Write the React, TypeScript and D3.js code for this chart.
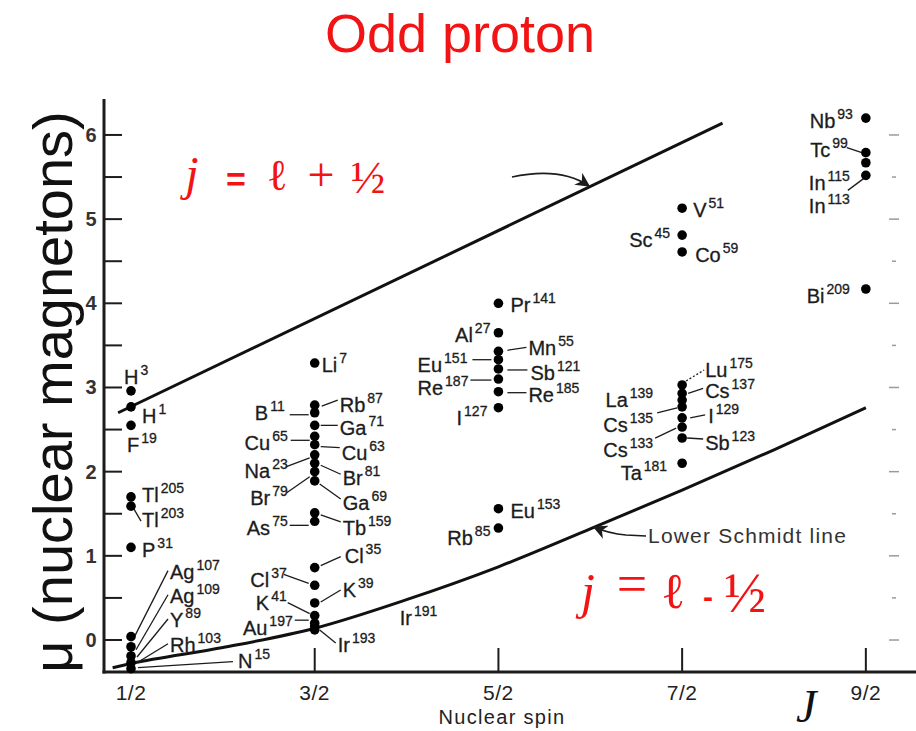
import React from 'react';
import * as d3 from 'd3';

const W = 916;
const H = 731;

// Nuclides: element symbol, mass number, nuclear spin J and magnetic moment μ (nuclear magnetons)
const SYMBOLS = [
  'H', 'H', 'F', 'Tl', 'Tl', 'P', 'Ag', 'Ag', 'Y', 'Rh', 'N',
  'Li', 'Rb', 'B', 'Ga', 'Cu', 'Cu', 'Na', 'Br', 'Br', 'Ga', 'Tb', 'As', 'Cl', 'Cl', 'K', 'K', 'Au', 'Ir', 'Ir',
  'Pr', 'Al', 'Mn', 'Eu', 'Sb', 'Re', 'Re', 'I', 'Eu', 'Rb',
  'V', 'Sc', 'Co', 'Lu', 'Cs', 'La', 'Cs', 'I', 'Cs', 'Sb', 'Ta',
  'Nb', 'Tc', 'In', 'In', 'Bi',
];
const MASSES = [
  3, 1, 19, 205, 203, 31, 107, 109, 89, 103, 15,
  7, 87, 11, 71, 65, 63, 23, 81, 79, 69, 159, 75, 35, 37, 39, 41, 197, 193, 191,
  141, 27, 55, 151, 121, 187, 185, 127, 153, 85,
  51, 45, 59, 175, 137, 139, 135, 129, 133, 123, 181,
  93, 99, 115, 113, 209,
];
const SPINS = [
  0.5, 0.5, 0.5, 0.5, 0.5, 0.5, 0.5, 0.5, 0.5, 0.5, 0.5,
  1.5, 1.5, 1.5, 1.5, 1.5, 1.5, 1.5, 1.5, 1.5, 1.5, 1.5, 1.5, 1.5, 1.5, 1.5, 1.5, 1.5, 1.5, 1.5,
  2.5, 2.5, 2.5, 2.5, 2.5, 2.5, 2.5, 2.5, 2.5, 2.5,
  3.5, 3.5, 3.5, 3.5, 3.5, 3.5, 3.5, 3.5, 3.5, 3.5, 3.5,
  4.5, 4.5, 4.5, 4.5, 4.5,
];
const MOMENTS = [
  2.96, 2.77, 2.55, 1.70, 1.59, 1.10, 0.04, -0.08, -0.19, -0.27, -0.34,
  3.29, 2.79, 2.70, 2.55, 2.42, 2.32, 2.20, 2.10, 2.00, 1.89, 1.51, 1.41, 0.86, 0.65, 0.44, 0.29, 0.20, 0.12, 0.16,
  4.00, 3.65, 3.43, 3.33, 3.22, 3.10, 2.95, 2.76, 1.56, 1.33,
  5.13, 4.81, 4.61, 3.03, 2.93, 2.85, 2.77, 2.64, 2.53, 2.40, 2.10,
  6.20, 5.79, 5.67, 5.52, 4.17,
];

// Schmidt limits (J, μ)
const UPPER_J = [0.43, 3.72];
const UPPER_MU = [2.70, 6.14];
const LOWER_J = [0.40, 0.5, 1.0, 1.5, 2.0, 2.5, 3.0, 3.5, 4.0, 4.5];
const LOWER_MU = [-0.33, -0.28, -0.09, 0.14, 0.48, 0.87, 1.32, 1.78, 2.26, 2.76];

// Axis ticks
const X_TICKS = [0.5, 1.5, 2.5, 3.5, 4.5];
const X_TICK_LABELS = ['1/2', '3/2', '5/2', '7/2', '9/2'];
const Y_TICKS = [0, 0.5, 1, 1.5, 2, 2.5, 3, 3.5, 4, 4.5, 5, 5.5, 6];
const Y_TICK_LABELS = ['0', '1', '2', '3', '4', '5', '6'];

// Label placement relative to each dot (pixels): text anchor offset, side, optional leader line
type Lay = { dx: number; dy: number; end?: boolean; lead?: number[]; dotted?: boolean };
const LABEL_LAYOUT: Lay[] = [
  { dx: -7, dy: -7 },
  { dx: 11, dy: 16 },
  { dx: -4, dy: 27 },
  { dx: 11, dy: 5 },
  { dx: 11, dy: 21, lead: [3, 3, 10, 15] },
  { dx: 11, dy: 10 },
  { dx: 39, dy: -58, lead: [37, -66, 3, 1] },
  { dx: 39, dy: -44, lead: [37, -52, 5, 3] },
  { dx: 39, dy: -29, lead: [37, -37, 6, 1] },
  { dx: 39, dy: -11, lead: [37, -19, 6, 0] },
  { dx: 107, dy: -1, lead: [102, -7, 7, -1] },

  { dx: 7, dy: 9 },
  { dx: 25, dy: 7, lead: [7, 1, 23, -5] },
  { dx: -30, dy: 7, end: true, lead: [-25, 2, -6, 2] },
  { dx: 25, dy: 10, lead: [6, 0, 23, 0] },
  { dx: -27, dy: 14, end: true, lead: [-24, 4, -5, 4] },
  { dx: 27, dy: 15, lead: [6, 2, 25, 3] },
  { dx: -27, dy: 23, end: true, lead: [-29, 12, -5, 3] },
  { dx: 28, dy: 22, lead: [6, 2, 26, 11] },
  { dx: -27, dy: 33, end: true, lead: [-28, 21, -5, 5] },
  { dx: 28, dy: 29, lead: [5, 3, 26, 18] },
  { dx: 28, dy: 22, lead: [6, 2, 26, 9] },
  { dx: -27, dy: 14, end: true, lead: [-25, 4, -6, 4] },
  { dx: 30, dy: -5, lead: [6, -2, 26, -11] },
  { dx: -28, dy: 2, end: true, lead: [-31, -11, -6, -2] },
  { dx: 28, dy: -6, lead: [6, -1, 26, -13] },
  { dx: -28, dy: -6, end: true, lead: [-27, -13, -5, -2] },
  { dx: -22, dy: 12, end: true, lead: [-20, -3, -6, -3] },
  { dx: 23, dy: 22, lead: [5, 0, 21, 13] },
  { dx: 85, dy: -2 },

  { dx: 12, dy: 9 },
  { dx: -8, dy: 9, end: true },
  { dx: 30, dy: 4, lead: [9, -1, 28, -4] },
  { dx: -31, dy: 12, end: true, lead: [-26, 0, -7, 0] },
  { dx: 32, dy: 11, lead: [9, 1, 29, 1] },
  { dx: -30, dy: 16, end: true, lead: [-28, 1, -7, 1] },
  { dx: 30, dy: 10, lead: [9, 1, 28, 1] },
  { dx: -11, dy: 17, end: true },
  { dx: 12, dy: 9 },
  { dx: -8, dy: 17, end: true },

  { dx: 11, dy: 9 },
  { dx: -12, dy: 12, end: true },
  { dx: 13, dy: 10 },
  { dx: 23, dy: -8, lead: [4, -4, 22, -15], dotted: true },
  { dx: 23, dy: 5, lead: [6, 0, 21, -5] },
  { dx: -29, dy: 7, end: true },
  { dx: -29, dy: 25, end: true, lead: [-25, 6, -5, 1] },
  { dx: 26, dy: 5, lead: [8, 0, 23, -3] },
  { dx: -29, dy: 30, end: true, lead: [-27, 11, -6, 1] },
  { dx: 23, dy: 12, lead: [5, 0, 21, 1] },
  { dx: -15, dy: 17, end: true },

  { dx: -13, dy: 10, end: true },
  { dx: -18, dy: 4, end: true, lead: [-19, -5, -4, 0] },
  { dx: -16, dy: 27, end: true },
  { dx: -16, dy: 38, end: true, lead: [-18, 15, -2, 3] },
  { dx: -16, dy: 14, end: true },
];

const RED = '#f21414';
const INK = '#1c1c1c';
const SANS = '"Liberation Sans", Arial, Helvetica, sans-serif';
const SERIF = '"Liberation Serif", "DejaVu Serif", "Times New Roman", serif';

export default function App() {
  const x = d3.scaleLinear().domain([0.353, 4.773]).range([104, 916]);
  const y = d3.scaleLinear().domain([-0.38, 6.42]).range([672, 99.6]);

  const upperPath = d3.line<number>()
    .x((_, i) => x(UPPER_J[i]))
    .y((d) => y(d))(UPPER_MU) || '';
  const lowerPath = d3.line<number>()
    .x((_, i) => x(LOWER_J[i]))
    .y((d) => y(d))
    .curve(d3.curveMonotoneX)(LOWER_MU) || '';

  const nuclei = SYMBOLS.map((s, i) => ({
    sym: s,
    mass: MASSES[i],
    px: x(SPINS[i]),
    py: y(MOMENTS[i]),
    lay: LABEL_LAYOUT[i],
  }));

  return (
    <svg width={W} height={H} viewBox={`0 0 ${W} ${H}`} style={{ display: 'block', position: 'absolute', left: 0, top: 0, background: '#fff' }}>
      <defs>
        <marker id="arrowHead" viewBox="0 0 10 10" refX="9" refY="5" markerWidth="9" markerHeight="9" orient="auto-start-reverse">
          <path d="M0,0 L10,5 L0,10 L3,5 Z" fill={INK} />
        </marker>
      </defs>
      <rect width={W} height={H} fill="#fff" />

      {/* title */}
      <text x={460} y={52} textAnchor="middle" fontFamily={SANS} fontSize={54} fill={RED}>Odd proton</text>

      {/* y axis title */}
      <text transform="translate(72,392) rotate(-90)" textAnchor="middle" fontFamily={SANS} fontSize={56} fill="#111">
        μ (nuclear magnetons)
      </text>

      {/* axes */}
      <line x1={104} y1={99} x2={104} y2={673.5} stroke={INK} strokeWidth={3} />
      <line x1={102.5} y1={672} x2={916} y2={672} stroke={INK} strokeWidth={3.2} />
      {Y_TICKS.map((t) => (
        <line key={`yt${t}`} x1={104} x2={122} y1={y(t)} y2={y(t)} stroke={INK} strokeWidth={2} />
      ))}
      {Y_TICKS.map((t) => (
        <line key={`yr${t}`} x1={Number.isInteger(t) ? 889 : 892} x2={Number.isInteger(t) ? 899 : 896} y1={y(t)} y2={y(t)} stroke="#9a9a9a" strokeWidth={1.5} />
      ))}
      {Y_TICK_LABELS.map((l) => (
        <text key={`yl${l}`} x={91} y={y(+l) + 7} textAnchor="middle" fontFamily={SANS} fontWeight="bold" fontSize={20} fill="#333">{l}</text>
      ))}
      {X_TICKS.map((t) => (
        <line key={`xt${t}`} x1={x(t)} x2={x(t)} y1={672} y2={648} stroke={INK} strokeWidth={2} />
      ))}
      {X_TICK_LABELS.map((l, i) => (
        <text key={`xl${l}`} x={x(X_TICKS[i])} y={700} textAnchor="middle" fontFamily={SANS} fontSize={21} letterSpacing={0.5} fill="#222">{l}</text>
      ))}
      <text x={502} y={724} textAnchor="middle" fontFamily={SANS} fontSize={20} letterSpacing={1.3} fill="#222">Nuclear spin</text>
      <text x={796} y={722} fontFamily={SERIF} fontStyle="italic" fontSize={46} fill="#111">J</text>

      {/* Schmidt lines */}
      <path d={upperPath} fill="none" stroke="#111" strokeWidth={3} />
      <path d={lowerPath} fill="none" stroke="#111" strokeWidth={3} />

      {/* pointer arrows */}
      <path d="M512,177 C540,171 568,172 589,186" fill="none" stroke={INK} strokeWidth={1.6} markerEnd="url(#arrowHead)" />
      <path d="M646,536 L626,535 C614,534 603,531 594,527" fill="none" stroke={INK} strokeWidth={1.6} markerEnd="url(#arrowHead)" />
      <text x={648} y={543} fontFamily={SANS} fontSize={21} letterSpacing={1.2} fill="#333">Lower Schmidt line</text>

      {/* leader lines */}
      {nuclei.map((n, i) => n.lay.lead ? (
        <line key={`ld${i}`} x1={n.px + n.lay.lead[0]} y1={n.py + n.lay.lead[1]} x2={n.px + n.lay.lead[2]} y2={n.py + n.lay.lead[3]}
          stroke={INK} strokeWidth={1.3} strokeDasharray={n.lay.dotted ? '2 2' : undefined} />
      ) : null)}

      {/* data points */}
      {nuclei.map((n, i) => (
        <circle key={`pt${i}`} cx={n.px} cy={n.py} r={4.8} fill="#000" />
      ))}

      {/* nuclide labels */}
      {nuclei.map((n, i) => (
        <text key={`lb${i}`} x={n.px + n.lay.dx} y={n.py + n.lay.dy} textAnchor={n.lay.end ? 'end' : 'start'}
          fontFamily={SANS} fontSize={20} fill={INK} stroke={INK} strokeWidth={0.3}>
          <tspan>{n.sym}</tspan>
          <tspan dx={2} dy={-9} fontSize={14}>{n.mass}</tspan>
        </text>
      ))}

      {/* j = l + 1/2 */}
      <g fill={RED}>
        <text x={192} y={190} textAnchor="middle" fontFamily={SERIF} fontStyle="italic" fontSize={48}>j</text>
        <text x={236} y={191} textAnchor="middle" fontFamily={SANS} fontWeight="bold" fontSize={34}>=</text>
        <text x={277} y={190} textAnchor="middle" fontFamily={SERIF} fontSize={44}>ℓ</text>
        <text x={321} y={191} textAnchor="middle" fontFamily={SERIF} fontSize={48}>+</text>
        <text x={368} y={193} textAnchor="middle" fontFamily={SERIF} fontSize={46}>½</text>
      </g>
      {/* j = l - 1/2 */}
      <g fill={RED}>
        <text x={588} y={608} textAnchor="middle" fontFamily={SERIF} fontStyle="italic" fontSize={50}>j</text>
        <text x={632} y={602} textAnchor="middle" fontFamily={SERIF} fontSize={54}>=</text>
        <text x={673} y={608} textAnchor="middle" fontFamily={SERIF} fontSize={50}>ℓ</text>
        <text x={708} y={607} textAnchor="middle" fontFamily={SANS} fontWeight="bold" fontSize={30}>-</text>
        <text x={745} y={612} textAnchor="middle" fontFamily={SERIF} fontSize={56}>½</text>
      </g>
    </svg>
  );
}
